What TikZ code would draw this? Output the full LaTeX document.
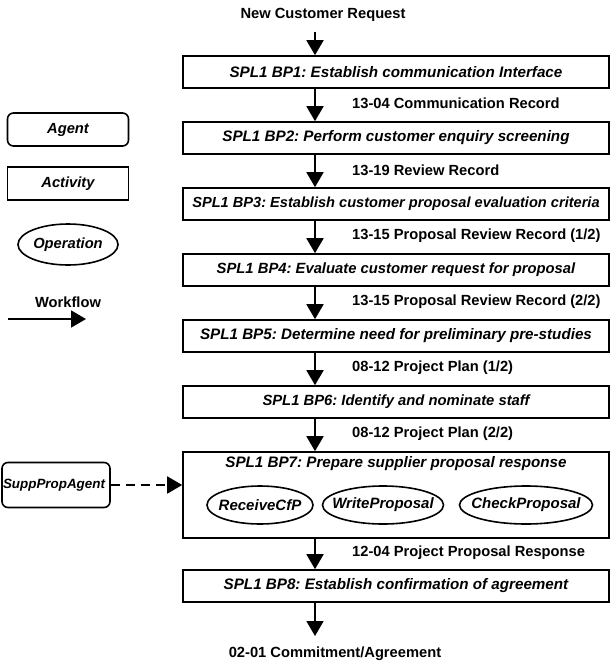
\documentclass[tikz,border=0pt]{standalone}
\usepackage{fontspec}
\setmainfont{Liberation Sans}
\usetikzlibrary{arrows.meta,shapes.geometric}
\frenchspacing
\begin{document}
\begin{tikzpicture}[x=1pt,y=-1pt,
  bfont/.style={font=\bfseries\itshape\fontsize{15.2}{17}\selectfont},
  box/.style={draw,line width=1.6pt,minimum height=32pt,minimum width=426pt,inner sep=0pt,bfont},
  lbl/.style={anchor=west,inner sep=0pt,font=\bfseries\fontsize{14.7}{17}\selectfont},
  plain/.style={inner sep=0pt,font=\bfseries\fontsize{14.7}{17}\selectfont},
  op/.style={draw,ellipse,line width=1.6pt,inner xsep=-10pt,inner ysep=0pt,minimum height=38pt,font=\bfseries\itshape\fontsize{15}{17}\selectfont},
  agent/.style={draw,rounded corners=6pt,line width=1.6pt,inner sep=0pt,font=\bfseries\itshape\fontsize{14.7}{17}\selectfont},
  act/.style={draw,line width=1.6pt,inner sep=0pt,font=\bfseries\itshape\fontsize{14.7}{17}\selectfont},
  flow/.style={line width=1.8pt,-{Triangle[width=17pt,length=15pt]}},
]
\useasboundingbox (0,0) rectangle (610,664);
\coordinate (ax) at (315,0);

\node[plain] (start) at (323,15) {New Customer Request};
\node[box] (bp1) at (396,72) {SPL1 BP1: Establish communication Interface};
\node[box] (bp2) at (396,138) {SPL1 BP2: Perform customer enquiry screening};
\node[box,font=\bfseries\itshape\fontsize{14.6}{17}\selectfont] (bp3) at (396,204) {SPL1 BP3: Establish customer proposal evaluation criteria};
\node[box,font=\bfseries\itshape\fontsize{14.8}{17}\selectfont] (bp4) at (396,270) {SPL1 BP4: Evaluate customer request for proposal};
\node[box] (bp5) at (396,336) {SPL1 BP5: Determine need for preliminary pre-studies};
\node[box,font=\bfseries\itshape\fontsize{14.8}{17}\selectfont] (bp6) at (396,402) {SPL1 BP6: Identify and nominate staff};
\node[box,minimum height=86pt] (bp7) at (396,495) {};
\node[inner sep=0pt,bfont] (bp7t) at (396,464) {SPL1 BP7: Prepare supplier proposal response};
\node[op,minimum width=106pt] (o1) at (260,505) {ReceiveCfP};
\node[op,minimum width=121pt] (o2) at (383,505) {WriteProposal};
\node[op,minimum width=133pt] (o3) at (526,505) {CheckProposal};
\node[box] (bp8) at (396,586) {SPL1 BP8: Establish confirmation of agreement};
\coordinate (endpt) at (315,636);
\node[plain] (final) at (335,654) {02-01 Commitment/Agreement};

\draw[flow] (start.south -| ax) ++(0,10) coordinate (s0) (s0) -- (bp1.north -| ax);
\draw[flow] (bp1.south -| ax) -- (bp2.north -| ax);
\draw[flow] (bp2.south -| ax) -- (bp3.north -| ax);
\draw[flow] (bp3.south -| ax) -- (bp4.north -| ax);
\draw[flow] (bp4.south -| ax) -- (bp5.north -| ax);
\draw[flow] (bp5.south -| ax) -- (bp6.north -| ax);
\draw[flow] (bp6.south -| ax) -- (bp7.north -| ax);
\draw[flow] (bp7.south -| ax) -- (bp8.north -| ax);
\draw[flow] (bp8.south -| ax) -- (endpt);

\node[lbl] (l1) at (352,103) {13-04 Communication Record};
\node[lbl] (l2) at (352,170) {13-19 Review Record};
\node[lbl] (l3) at (352,236) {13-15 Proposal Review Record (1/2)};
\node[lbl] (l4) at (352,302) {13-15 Proposal Review Record (2/2)};
\node[lbl] (l5) at (352,368) {08-12 Project Plan (1/2)};
\node[lbl] (l6) at (352,434) {08-12 Project Plan (2/2)};
\node[lbl] (l7) at (352,553) {12-04 Project Proposal Response};

% legend
\node[agent,minimum width=121pt,minimum height=33pt] (lagent) at (68,129.5) {Agent};
\node[act,minimum width=121pt,minimum height=33pt] (lact) at (68,183.5) {Activity};
\node[op,minimum width=100pt,minimum height=41pt,font=\bfseries\itshape\fontsize{14.7}{17}\selectfont] (lop) at (68,244.5) {Operation};
\node[plain] (lwf) at (68,302) {Workflow};
\coordinate (wfa) at (8,319);
\coordinate (wfb) at (86,319);
\draw[flow] (wfa) -- (wfb);

\node[agent,minimum width=108pt,minimum height=45pt,font=\bfseries\itshape\fontsize{13.4}{15}\selectfont] (supp) at (56,485) {SuppPropAgent\hspace*{4pt}};
\draw[flow,dash pattern=on 9pt off 6pt] (supp.east) -- (supp.east -| bp7.west);
\end{tikzpicture}
\end{document}
